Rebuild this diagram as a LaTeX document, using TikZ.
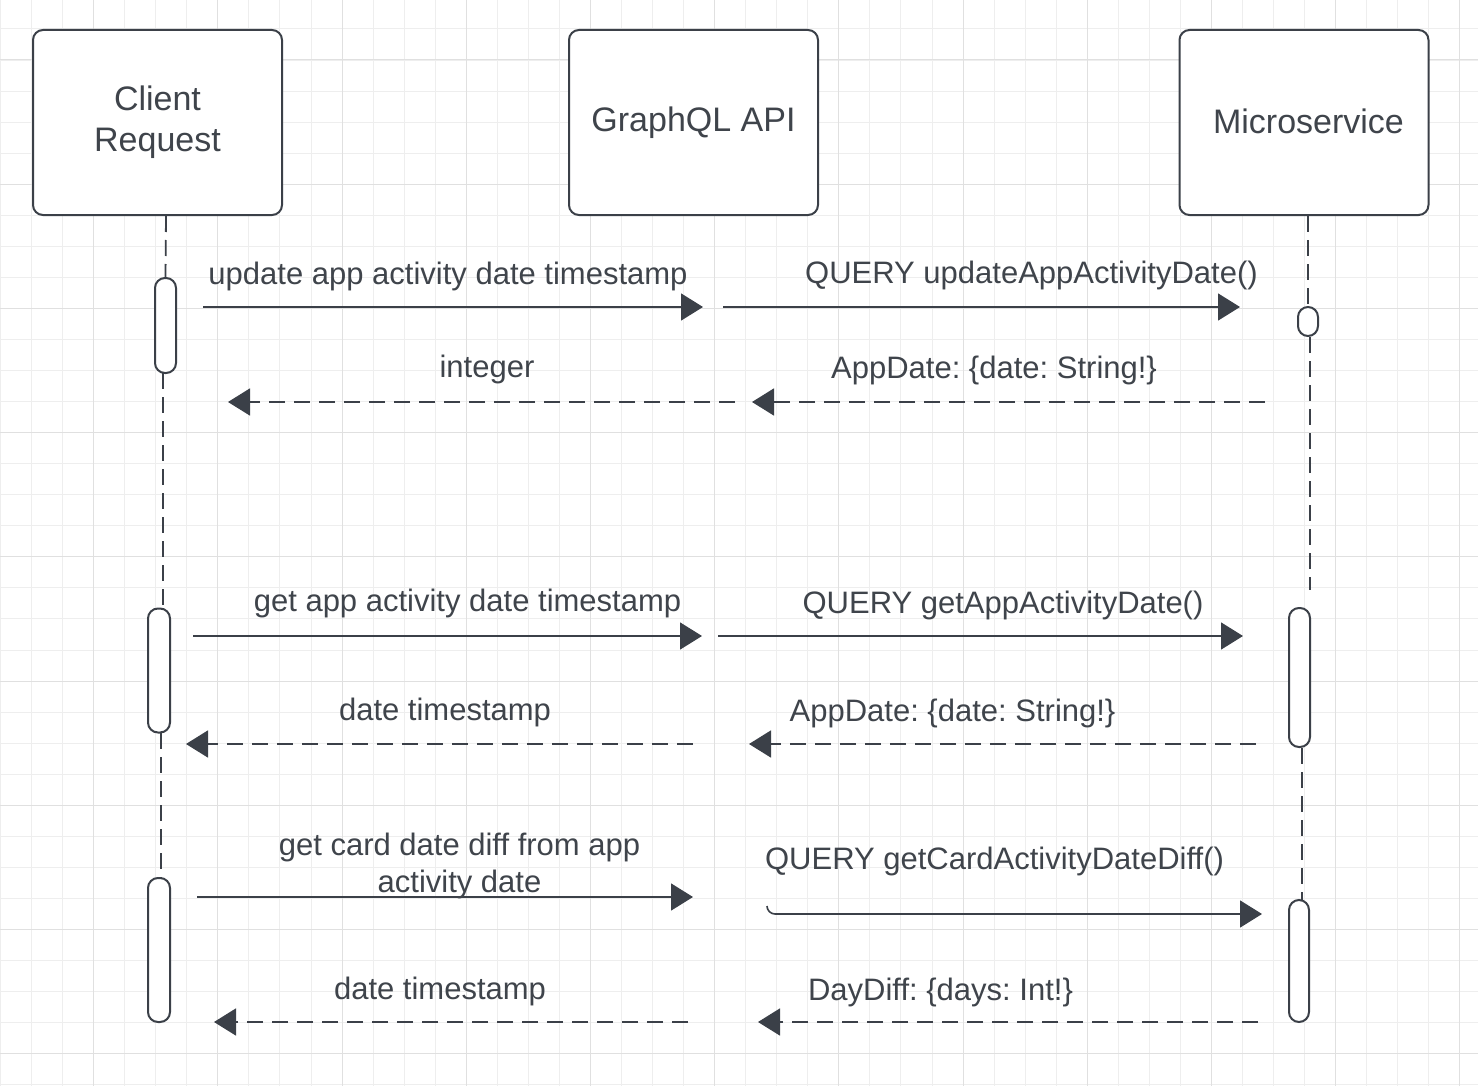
\documentclass[tikz,border=0pt]{standalone}
\usepackage{fontspec}
\setmainfont{Liberation Sans}
\usetikzlibrary{arrows.meta}
\definecolor{ink}{HTML}{3B4048}
\definecolor{txt}{HTML}{3F444B}
\definecolor{gridA}{HTML}{EEEEEE}
\definecolor{gridB}{HTML}{E0E0E0}
\frenchspacing
\begin{document}
\begin{tikzpicture}[x=0.5pt,y=-0.5pt,
 actor/.style={draw=ink, line width=1pt, rounded corners=5pt, fill=white, minimum width=124.5pt, minimum height=92.5pt, align=center, text=txt, font=\fontsize{17}{20.5}\selectfont, inner sep=0pt},
 act/.style={draw=ink, line width=1pt, fill=white, rounded corners=5pt, inner sep=0pt},
 life/.style={draw=ink, line width=0.9pt, dash pattern=on 8pt off 4pt},
 msg/.style={draw=ink, line width=0.8pt, -{Triangle[length=11pt,width=13.5pt]}},
 ret/.style={msg, dash pattern=on 8pt off 4.5pt},
 lbl/.style={text=txt, font=\fontsize{15.5}{18.5}\selectfont\frenchspacing, anchor=base, inner sep=0pt, align=center},
 gl/.style={line width=0.5pt, draw=gridA},
 gd/.style={line width=0.5pt, draw=gridB},
]
\useasboundingbox (0,0) rectangle (1478,1086);
\fill[white] (0,0) rectangle (1478,1086);
% grid
\foreach \i in {0,...,47} \draw[gl] ({0.5+31.05*\i},0) -- ({0.5+31.05*\i},1086);
\foreach \i in {0,...,35} \draw[gl] (0,{-2.05+31.05*\i}) -- (1478,{-2.05+31.05*\i});
\foreach \i in {0,...,11} \draw[gd] ({93.65+124.2*\i},0) -- ({93.65+124.2*\i},1086);
\foreach \i in {0,...,8} \draw[gd] (0,{60+124.2*\i}) -- (1478,{60+124.2*\i});

% actors
\node[actor] (c) at (157.5,122.5) {Client\\Request};
\node[actor] (g) at (693.5,122.5) {GraphQL API};
\node[actor] (m) at (1304,122.5) {\hspace*{4.5pt}\raisebox{1pt}{Microservice}};

% activations
\node[act, minimum width=10.5pt, minimum height=47.5pt] (ca1) at (165.5,325.5) {};
\node[act, minimum width=11pt, minimum height=62pt] (ca2) at (159,670.5) {};
\node[act, minimum width=11pt, minimum height=72pt] (ca3) at (159,950) {};
\node[act, minimum width=10pt, minimum height=14.5pt] (ma1) at (1308,321.5) {};
\node[act, minimum width=10.5pt, minimum height=69.5pt] (ma2) at (1299.5,677.5) {};
\node[act, minimum width=10pt, minimum height=61pt] (ma3) at (1299,961) {};

% lifelines
\coordinate (c0) at (166,216);
\coordinate (c1) at (163,373);
\coordinate (c2) at (163,608);
\coordinate (c3) at (161,733);
\coordinate (c4) at (161,878);
\draw[life] (c0) -- (ca1.north);
\draw[life] (c1) -- (c2);
\draw[life] (c3) -- (c4);
\coordinate (m0) at (1308,216);
\coordinate (m1) at (1310,337);
\coordinate (m2) at (1310,590);
\coordinate (m3) at (1302,748);
\coordinate (m4) at (1302,900);
\draw[life] (m0) -- (ma1.north);
\draw[life] (m1) -- (m2);
\draw[life] (m3) -- (m4);

% message endpoints
\coordinate (a1s) at (203,307);  \coordinate (a1e) at (703,307);
\coordinate (b1s) at (723,307);  \coordinate (b1e) at (1240,307);
\coordinate (a2s) at (735,402);  \coordinate (a2e) at (228,402);
\coordinate (b2s) at (1265,402); \coordinate (b2e) at (752,402);
\coordinate (a3s) at (193,636);  \coordinate (a3e) at (702,636);
\coordinate (b3s) at (718,636);  \coordinate (b3e) at (1243,636);
\coordinate (a4s) at (693,744);  \coordinate (a4e) at (186,744);
\coordinate (b4s) at (1256,744); \coordinate (b4e) at (749,744);
\coordinate (a5s) at (197,897);  \coordinate (a5e) at (693,897);
\coordinate (b5s) at (767,906);  \coordinate (b5e) at (1262,914);
\coordinate (a6s) at (688,1022); \coordinate (a6e) at (214,1022);
\coordinate (b6s) at (1258,1022);\coordinate (b6e) at (758,1022);

\draw[msg] (a1s) -- (a1e);
\draw[msg] (b1s) -- (b1e);
\draw[ret] (a2s) -- (a2e);
\draw[ret] (b2s) -- (b2e);
\draw[msg] (a3s) -- (a3e);
\draw[msg] (b3s) -- (b3e);
\draw[ret] (a4s) -- (a4e);
\draw[ret] (b4s) -- (b4e);
\draw[msg] (a5s) -- (a5e);
\draw[msg, rounded corners=4pt] (b5s) |- (b5e);
\draw[ret] (a6s) -- (a6e);
\draw[ret] (b6s) -- (b6e);

% labels
\node[lbl] (t1) at (448,284) {update app activity date timestamp};
\node[lbl] (u1) at (1031.5,283) {QUERY updateAppActivityDate()};
\node[lbl] (t2) at (487,377) {integer};
\node[lbl] (u2) at (994,378) {AppDate: \{date: String!\}};
\node[lbl] (t3) at (467.5,611) {get app activity date timestamp};
\node[lbl] (u3) at (1003,613) {QUERY getAppActivityDate()};
\node[lbl] (t4) at (445,720) {date timestamp};
\node[lbl] (u4) at (952.5,721) {AppDate: \{date: String!\}};
\node[lbl] (t5) at (459.5,892) {get card date diff from app\\activity date};
\node[lbl] (u5) at (994.5,869) {QUERY getCardActivityDateDiff()};
\node[lbl] (t6) at (440,999) {date timestamp};
\node[lbl] (u6) at (940.5,1000) {DayDiff: \{days: Int!\}};
\end{tikzpicture}
\end{document}
